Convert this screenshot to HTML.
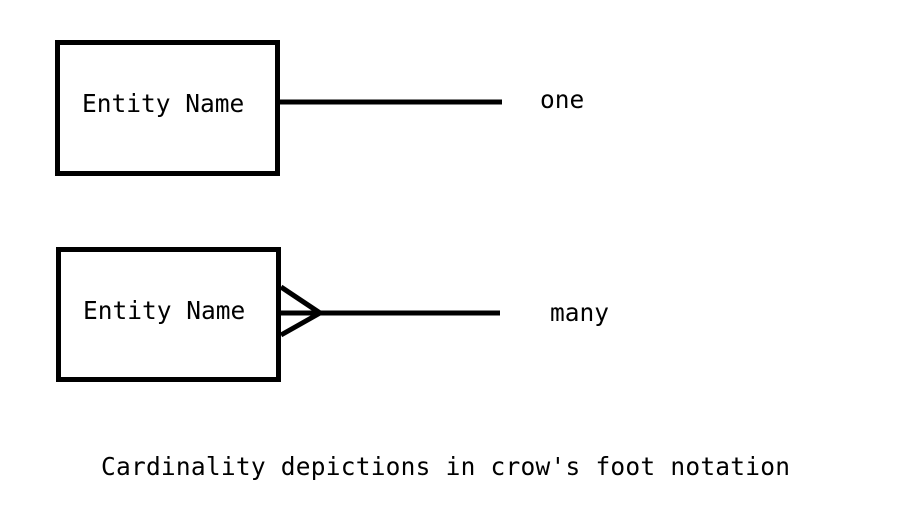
<!DOCTYPE html>
<html><head><style>body{margin:0;background:#fff}</style></head><body>
<svg width="900" height="506" xmlns="http://www.w3.org/2000/svg" style="display:block">
<g fill="none" stroke="#000" stroke-width="5">
<rect x="57.5" y="42.5" width="220" height="131"/>
<rect x="58.5" y="249.5" width="220" height="130"/>
<line x1="278" y1="102" x2="502" y2="102"/>
<line x1="279" y1="313" x2="500" y2="313"/>
<polyline points="281,287 320,313 281,335"/>
</g>
<g font-family="DejaVu Sans Mono, Liberation Mono, monospace" font-size="24.5" fill="#000">
<text x="82" y="112">Entity Name</text>
<text x="83" y="319">Entity Name</text>
<text x="540" y="108">one</text>
<text x="550" y="321">many</text>
<text x="101" y="475" textLength="689" lengthAdjust="spacing">Cardinality depictions in crow's foot notation</text>
</g>
</svg>
</body></html>
